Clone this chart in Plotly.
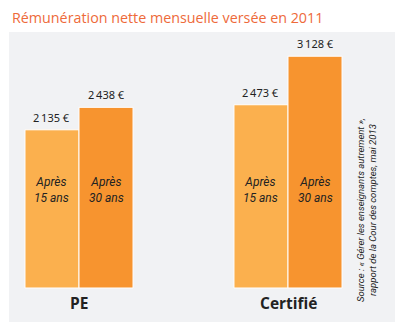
import plotly.graph_objects as go

# Net monthly pay paid in 2011, by corps and seniority
categories = ["PE", "Certifié"]
seniority = ["15 ans", "30 ans"]
pay_15 = [2135, 2473]
pay_30 = [2438, 3128]
colors = ["#fbb04e", "#f7942f"]

W, H = 401, 329
ml, mr, mt, mb = 9, 6, 32, 7
y_range = [-459, 3455]
pw, ph = W - ml - mr, H - mt - mb


def euro(v):
    s = f"{v:,}".replace(",", "\u202f")
    return f"{s} €"


def px_to_y(py):
    """Convert a pixel row of the figure into a y data value."""
    frac = (H - mb - py) / ph
    return y_range[0] + frac * (y_range[1] - y_range[0])


fig = go.Figure()
for name, vals, col in zip(seniority, [pay_15, pay_30], colors):
    fig.add_trace(go.Bar(
        x=categories, y=vals, name=name,
        marker=dict(color=col, line=dict(color="white", width=1)),
        hoverinfo="skip",
    ))

# bar geometry helpers
bargap = 0.483
half = (1 - bargap) / 4  # offset of each bar centre within a group (category units)
xr = [-0.335, 1.512]
px_per_unit = pw / (xr[1] - xr[0])
shift = half * px_per_unit

annotations = []
for i, cat in enumerate(categories):
    for j, (vals, label) in enumerate(zip([pay_15, pay_30], seniority)):
        xs = -shift if j == 0 else shift
        annotations.append(dict(
            x=cat, y=vals[i], xref="x", yref="y", xshift=xs, yshift=3,
            text=euro(vals[i]), showarrow=False, yanchor="bottom",
            font=dict(family="Noto Sans", size=11, color="#222222"),
        ))
        annotations.append(dict(
            x=cat, y=px_to_y(190), xref="x", yref="y", xshift=xs,
            text=f"Après<br>{label}", showarrow=False, yanchor="middle",
            font=dict(family="Roboto", size=12, color="#222222", style="italic"),
        ))
    # category name under each group
    annotations.append(dict(
        x=cat, y=px_to_y(303), xref="x", yref="y",
        text=cat, showarrow=False, yanchor="middle",
        font=dict(family="Open Sans", size=15.5, color="#222222", weight="bold"),
    ))

# title
annotations.append(dict(
    x=(10 - ml) / pw, y=(H - mb - 18) / ph, xref="paper", yref="paper",
    text="Rémunération nette mensuelle versée en 2011", showarrow=False,
    xanchor="left", yanchor="middle",
    font=dict(family="Open Sans", size=14.3, color="#ee6a3a"),
))

# source, set vertically
annotations.append(dict(
    x=(366 - ml) / pw, y=(H - mb - 210) / ph, xref="paper", yref="paper",
    text="Source : « Gérer les enseignants autrement »,<br>rapport de la Cour des comptes, mai 2013",
    showarrow=False, textangle=-90, xanchor="center", yanchor="middle",
    font=dict(family="Roboto", size=9.5, color="#222222", style="italic"),
))

fig.update_layout(
    width=W, height=H,
    margin=dict(l=ml, r=mr, t=mt, b=mb, pad=0),
    paper_bgcolor="white", plot_bgcolor="#f1f2f4",
    barmode="group", bargap=bargap, bargroupgap=0,
    showlegend=False,
    annotations=annotations,
)
fig.update_xaxes(range=xr, visible=False)
fig.update_yaxes(range=y_range, visible=False)

fig.write_html("out.html")
